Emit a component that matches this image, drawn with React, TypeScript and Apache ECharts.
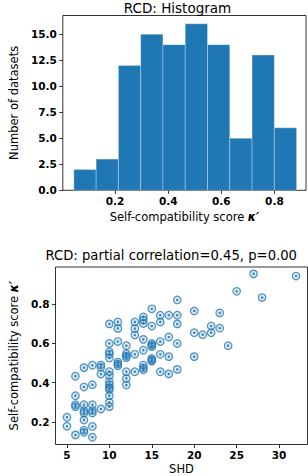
import React, { useEffect, useRef } from "react";
import * as echarts from "echarts";

// Histogram
const binEdges = [0.0446, 0.1285, 0.2124, 0.2963, 0.3802, 0.4641, 0.548, 0.6319, 0.7158, 0.7997, 0.8836];
const binCounts = [2, 3, 12, 15, 14, 16, 14, 5, 13, 6];
const histYTicks = [0, 2.5, 5, 7.5, 10, 12.5, 15];
const histXTicks = [0.2, 0.4, 0.6, 0.8];

// Scatter
const shd = [
  5, 5,
  6, 6, 6, 6, 6,
  7, 7, 7, 7, 7, 7, 7, 7,
  8, 8, 8, 8, 8, 8, 8,
  9, 9, 9, 9,
  10, 10, 10, 10, 10, 10, 10, 10, 10, 10, 10, 10, 10, 10,
  11, 11, 11, 11, 11, 11,
  12, 12, 12, 12, 12, 12, 12,
  13, 13, 13, 13, 13,
  14, 14, 14, 14, 14, 14, 14, 14,
  15, 15, 15, 15, 15, 15, 15, 15,
  16, 16, 16, 16, 16,
  17, 17, 17, 17,
  18, 18, 18, 18, 18,
  20, 20, 20,
  21,
  22, 22,
  23, 23,
  24,
  25,
  27,
  28,
  32,
];
const kappa = [
  0.224, 0.178,
  0.433, 0.334, 0.288, 0.278, 0.134,
  0.477, 0.378, 0.288, 0.257, 0.245, 0.21, 0.158, 0.147,
  0.489, 0.39, 0.288, 0.258, 0.246, 0.177, 0.122,
  0.49, 0.479, 0.444, 0.266,
  0.70, 0.60, 0.558, 0.546, 0.526, 0.457, 0.437, 0.405, 0.39, 0.375, 0.366, 0.334, 0.30, 0.278,
  0.71, 0.677, 0.61, 0.505, 0.495, 0.487,
  0.589, 0.548, 0.537, 0.528, 0.456, 0.422, 0.388,
  0.71, 0.676, 0.643, 0.545, 0.456,
  0.735, 0.72, 0.702, 0.621, 0.566, 0.49, 0.476, 0.466,
  0.777, 0.689, 0.60, 0.592, 0.584, 0.524, 0.516, 0.51,
  0.744, 0.71, 0.61, 0.545, 0.456,
  0.744, 0.633, 0.533, 0.445,
  0.822, 0.744, 0.70, 0.60, 0.468,
  0.766, 0.655, 0.533,
  0.645,
  0.689, 0.655,
  0.756, 0.678,
  0.589,
  0.866,
  0.955,
  0.834,
  0.944,
];
const scatterXTicks = [5, 10, 15, 20, 25, 30];
const scatterYTicks = [0.2, 0.4, 0.6, 0.8];

const FONT = "DejaVu Sans";
const BLUE = "#1f77b4";

export default function App() {
  const ref = useRef<HTMLDivElement>(null);
  useEffect(() => {
    if (!ref.current) return;
    const chart = echarts.init(ref.current, null, { renderer: "svg" });
    const histData = binCounts.map((c, i) => [binEdges[i], binEdges[i + 1], c]);
    const scatterData = shd.map((s, i) => [s, kappa[i]]);

    const tickLabel = {
      fontFamily: FONT,
      fontWeight: "bold" as const,
      fontSize: 10.5,
      color: "#000",
    };
    const axisCommon = {
      splitLine: { show: false },
      axisLine: { show: false, onZero: false },
      axisTick: { show: true, length: 3.5, lineStyle: { color: "#000", width: 0.8 } },
    };
    const nameStyle = {
      fontFamily: FONT,
      fontSize: 11.5,
      color: "#000",
      rich: {
        k: { fontFamily: FONT, fontSize: 11.5, fontWeight: "bold", fontStyle: "italic", color: "#000" },
      },
    };

    chart.setOption({
      animation: false,
      backgroundColor: "#fff",
      title: [
        {
          text: "RCD: Histogram",
          left: 177.5,
          top: 1,
          padding: 0,
          textAlign: "center",
          textStyle: { fontFamily: FONT, fontSize: 13.5, fontWeight: "normal", color: "#000" },
        },
        {
          text: "RCD: partial correlation=0.45, p=0.00",
          left: 45.5,
          top: 249,
          padding: 0,
          textAlign: "left",
          textStyle: { fontFamily: FONT, fontSize: 13.2, fontWeight: "normal", color: "#000" },
        },
      ],
      grid: [
        { left: 49, top: 15.5, width: 257, height: 174.8, show: true, borderColor: "#000", borderWidth: 0.8, backgroundColor: "transparent" },
        { left: 45.5, top: 267, width: 262, height: 177.5, show: true, borderColor: "#000", borderWidth: 0.8, backgroundColor: "transparent" },
      ],
      xAxis: [
        {
          type: "value",
          gridIndex: 0,
          min: 0.003,
          max: 0.919,
          ...axisCommon,
          axisTick: { ...axisCommon.axisTick, customValues: histXTicks },
          axisLabel: { ...tickLabel, margin: 5, customValues: histXTicks, formatter: (v: number) => v.toFixed(1) },
          name: "Self-compatibility score {k|κ′}",
          nameLocation: "middle",
          nameGap: 21,
          nameTextStyle: nameStyle,
        },
        {
          type: "value",
          gridIndex: 1,
          min: 3.65,
          max: 33.35,
          ...axisCommon,
          axisTick: { ...axisCommon.axisTick, customValues: scatterXTicks },
          axisLabel: { ...tickLabel, margin: 5, customValues: scatterXTicks, formatter: (v: number) => String(v) },
          name: "SHD",
          nameLocation: "middle",
          nameGap: 18.5,
          nameTextStyle: nameStyle,
        },
      ],
      yAxis: [
        {
          type: "value",
          gridIndex: 0,
          min: 0,
          max: 16.8,
          ...axisCommon,
          axisTick: { ...axisCommon.axisTick, customValues: histYTicks },
          axisLabel: { ...tickLabel, margin: 6, customValues: histYTicks, formatter: (v: number) => v.toFixed(1) },
          name: "Number of datasets",
          nameLocation: "middle",
          nameGap: 37,
          nameTextStyle: nameStyle,
        },
        {
          type: "value",
          gridIndex: 1,
          min: 0.085,
          max: 0.99,
          ...axisCommon,
          axisTick: { ...axisCommon.axisTick, customValues: scatterYTicks },
          axisLabel: { ...tickLabel, margin: 6, customValues: scatterYTicks, formatter: (v: number) => v.toFixed(1) },
          name: "Self-compatibility score {k|κ′}",
          nameLocation: "middle",
          nameGap: 29,
          nameTextStyle: nameStyle,
        },
      ],
      series: [
        {
          type: "custom",
          xAxisIndex: 0,
          yAxisIndex: 0,
          encode: { x: [0, 1], y: 2 },
          data: histData,
          renderItem: (params: any, api: any) => {
            const p0 = api.coord([api.value(0), api.value(2)]);
            const p1 = api.coord([api.value(1), 0]);
            return {
              type: "rect",
              shape: { x: p0[0], y: p0[1], width: p1[0] - p0[0], height: p1[1] - p0[1] },
              style: { fill: BLUE, stroke: "rgba(255,255,255,0.3)", lineWidth: 1 },
            };
          },
        },
        {
          type: "scatter",
          xAxisIndex: 1,
          yAxisIndex: 1,
          data: scatterData,
          symbol: "circle",
          symbolSize: 7.5,
          itemStyle: { color: "rgba(31,119,180,0.18)", borderColor: BLUE, borderWidth: 1.2 },
        },
        {
          type: "scatter",
          xAxisIndex: 1,
          yAxisIndex: 1,
          data: scatterData,
          symbol: "circle",
          symbolSize: 2.6,
          itemStyle: { color: BLUE, opacity: 0.85 },
        },
      ],
    });
    return () => chart.dispose();
  }, []);
  return (
    <div
      ref={ref}
      style={{ position: "fixed", left: 0, top: 0, width: 308, height: 476 }}
    />
  );
}
